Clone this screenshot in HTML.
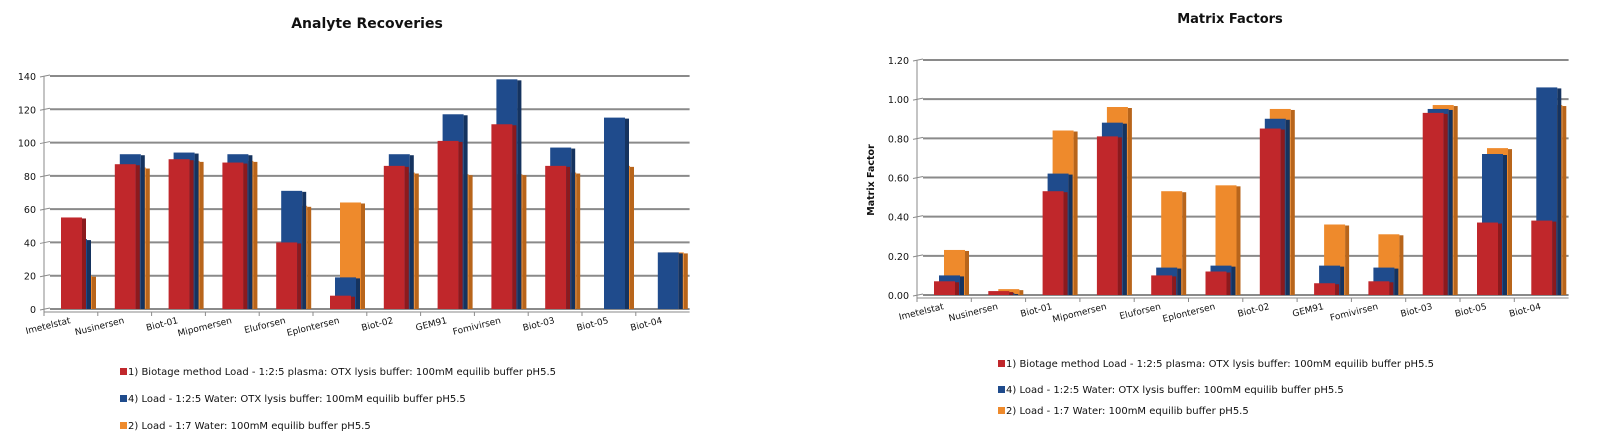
<!DOCTYPE html>
<html><head><meta charset="utf-8"><style>
body{margin:0;background:#fff;}
svg{display:block;font-family:"DejaVu Sans","Liberation Sans",sans-serif;}
</style></head><body>
<svg id="s" width="1603" height="438" viewBox="0 0 1603 438">
<text x="367" y="28" text-anchor="middle" font-size="14" font-weight="bold" fill="#111">Analyte Recoveries</text>
<text x="1230" y="23" text-anchor="middle" font-size="13" font-weight="bold" fill="#111">Matrix Factors</text>
<text transform="translate(874,180) rotate(-90)" text-anchor="middle" font-size="9.5" font-weight="bold" fill="#111">Matrix Factor</text>
<g id="left"></g>
<g id="right"></g>
</svg>
<script>
const categories=["Imetelstat","Nusinersen","Biot-01","Mipomersen","Eluforsen","Eplontersen","Biot-02","GEM91","Fomivirsen","Biot-03","Biot-05","Biot-04"];
const recRed=[55,87,90,88,40,8,86,101,111,86,0,0];
const recBlue=[42,93,94,93,71,19,93,117,138,97,115,34];
const recOrange=[20,85,89,89,62,64,82,81,81,82,86,34];
const recTicks=[0,20,40,60,80,100,120,140];
const mfRed=[0.07,0.02,0.53,0.81,0.10,0.12,0.85,0.06,0.07,0.93,0.37,0.38];
const mfBlue=[0.10,0.01,0.62,0.88,0.14,0.15,0.90,0.15,0.14,0.95,0.72,1.06];
const mfOrange=[0.23,0.03,0.84,0.96,0.53,0.56,0.95,0.36,0.31,0.97,0.75,0.97];
const mfTicks=[0,0.2,0.4,0.6,0.8,1.0,1.2];
const seriesNames=["1) Biotage method Load - 1:2:5 plasma: OTX lysis buffer: 100mM equilib buffer pH5.5","4) Load - 1:2:5 Water: OTX lysis buffer: 100mM equilib buffer pH5.5","2) Load - 1:7 Water: 100mM equilib buffer pH5.5"];
const NS='http://www.w3.org/2000/svg';
function mk(p,t,a){const e=document.createElementNS(NS,t);for(const k in a)e.setAttribute(k,a[k]);p.appendChild(e);return e;}
function chart(g,o){
  const y=v=>o.y0-(v-o.min)/(o.max-o.min)*(o.y0-o.yTop);
  const xEnd=o.x0+o.cw*categories.length;
  o.ticks.forEach((t,i)=>{
    const l=mk(g,'line',{x1:o.x0+6,x2:xEnd,y1:y(t),y2:y(t),stroke:'#8a8a8a','stroke-width':2});
    
    
    mk(g,'line',{x1:o.x0-4,x2:o.x0+6,y1:y(t)+1,y2:y(t)-1,stroke:'#8a8a8a','stroke-width':1});
    const tx=mk(g,'text',{x:o.x0-8,y:y(t)+4,'text-anchor':'end','font-size':9.5,fill:'#111'});
    tx.textContent=o.fmt(t);
    
    
  });
  mk(g,'line',{x1:o.x0,x2:o.x0,y1:o.yTop,y2:o.y0+4,stroke:'#8a8a8a','stroke-width':1});
  mk(g,'line',{x1:o.x0,x2:xEnd,y1:o.y0+3,y2:o.y0+3,stroke:'#8a8a8a','stroke-width':1});
  const sets=[[o.orange,10,'#ee8a2c','#b8651b','orange'],[o.blue,5,'#1f4b8c','#15335f','blue'],[o.red,0,'#c0272b','#8c1a1d','red']];
  categories.forEach((c,i)=>{
    const cx=o.x0+o.cw*i;
    mk(g,'line',{x1:cx,x2:cx,y1:o.y0+3,y2:o.y0+7,stroke:'#8a8a8a'});
    sets.forEach(s=>{
      const v=s[0][i]; if(!v) return;
      const bx=cx+17+s[1], top=y(v), h=o.y0-top;
      const r=mk(g,'rect',{x:bx,y:top,width:21,height:h,fill:s[2]});
      
      
      mk(g,'rect',{x:bx+21,y:top+1,width:4,height:h-1,fill:s[3]});
    });
    const lb=mk(g,'text',{transform:`translate(${cx+o.cw/2},${o.y0+14}) rotate(-14)`,'text-anchor':'end','font-size':9,fill:'#111'});
    lb.textContent=c;
    
    
  });
  const cols=['#c0272b','#1f4b8c','#ee8a2c'];
  seriesNames.forEach((n,i)=>{
    const ly=o.legY[i];
    const sq=mk(g,'rect',{x:o.legX,y:ly-7,width:7,height:7,fill:cols[i]});
    
    
    const t=mk(g,'text',{x:o.legX+8,y:ly,'font-size':10,fill:'#111'});
    t.textContent=n;
    
    
  });
}
chart(document.getElementById('left'),{x0:44,cw:53.8,y0:309,yTop:76,min:0,max:140,ticks:recTicks,fmt:t=>t,red:recRed,blue:recBlue,orange:recOrange,legX:120,legY:[375,402,429]});
chart(document.getElementById('right'),{x0:917,cw:54.3,y0:295,yTop:60,min:0,max:1.2,ticks:mfTicks,fmt:t=>t.toFixed(2),red:mfRed,blue:mfBlue,orange:mfOrange,legX:998,legY:[367,393,414]});
</script>
</body></html>
